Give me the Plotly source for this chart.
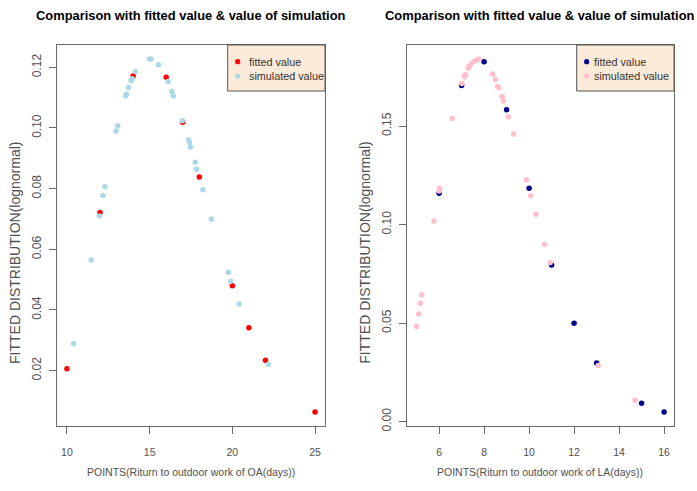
import plotly.graph_objects as go

# ---- OA panel (left) ----
oa_fit_x = [10, 12, 14, 16, 17, 18, 20, 21, 22, 25]
oa_fit_y = [0.0206, 0.0721, 0.1171, 0.1167, 0.1019, 0.0838, 0.0480, 0.0341, 0.0234, 0.0064]

oa_sim_x = [10.4, 11.47, 11.96, 12.18, 12.3, 12.97, 13.07, 13.55, 13.6, 13.72, 13.88, 13.94,
            14.14, 14.99, 15.09, 15.53, 16.12, 16.34, 16.44, 16.97, 17.35, 17.41, 17.47,
            17.76, 17.84, 18.22, 18.73, 19.76, 19.9, 20.4, 22.18]
oa_sim_y = [0.0289, 0.0565, 0.0710, 0.0777, 0.0806, 0.0990, 0.1007, 0.1105, 0.1111, 0.1133,
            0.1156, 0.1162, 0.1186, 0.1227, 0.1227, 0.1208, 0.1153, 0.1120, 0.1105, 0.1024,
            0.0961, 0.0952, 0.0937, 0.0887, 0.0864, 0.0796, 0.0700, 0.0524, 0.0495, 0.0420,
            0.0221]

# ---- LA panel (right) ----
la_fit_x = [6, 7, 8, 9, 10, 11, 12, 13, 15, 16]
la_fit_y = [0.1159, 0.1706, 0.1827, 0.1583, 0.1184, 0.0795, 0.0499, 0.0297, 0.0093, 0.0049]

la_sim_x = [5.0, 5.09, 5.17, 5.23, 5.77, 6.0, 6.02, 6.58, 7.01, 7.13, 7.17, 7.29, 7.33, 7.42,
            7.54, 7.64, 7.76, 8.38, 8.5, 8.6, 8.65, 8.8, 8.86, 9.08, 9.31, 9.88, 10.07,
            10.3, 10.69, 10.94, 13.07, 14.71]
la_sim_y = [0.0482, 0.0546, 0.0600, 0.0642, 0.1018, 0.1170, 0.1185, 0.1539, 0.1716, 0.1751,
            0.1761, 0.1793, 0.1803, 0.1816, 0.1828, 0.1833, 0.1840, 0.1764, 0.1736, 0.1701,
            0.1694, 0.1650, 0.1627, 0.1547, 0.1460, 0.1228, 0.1146, 0.1052, 0.0899, 0.0807,
            0.0284, 0.0108]

oa_xticks = [10, 15, 20, 25]
oa_yticks = [0.02, 0.04, 0.06, 0.08, 0.10, 0.12]
la_xticks = [6, 8, 10, 12, 14, 16]
la_yticks = [0.00, 0.05, 0.10, 0.15]

legend_labels = ["fitted value", "simulated value"]
oa_colors = ["#ff0000", "#add8e6"]
la_colors = ["#00008b", "#ffc0cb"]

TITLE = "Comparison with fitted value & value of simulation"
YLAB = "FITTED DISTRIBUTION(lognormal)"
XLAB_OA = "POINTS(Riturn to outdoor work of OA(days))"
XLAB_LA = "POINTS(Riturn to outdoor work of LA(days))"

W, H = 697, 491
FONT = "Liberation Sans, Arial, sans-serif"
AXIS_GREY = "#6b6b6b"
TEXT_GREY = "#505050"


def pad_range(vals, frac=0.04):
    lo, hi = min(vals), max(vals)
    d = (hi - lo) * frac
    return [lo - d, hi + d]


def px(x):
    return x / W


def py(y):
    return 1 - y / H


# plot boxes in pixels (left, right, top, bottom)
box_l = (57, 325, 45, 426)
box_r = (406.7, 674, 45, 426)


def dom(box):
    l, r, t, b = box
    return [px(l), px(r)], [py(b), py(t)]


fig = go.Figure()

mk = dict(size=5.5, line=dict(width=0))
panels = [
    (oa_fit_x, oa_fit_y, oa_sim_x, oa_sim_y, oa_colors, "x", "y"),
    (la_fit_x, la_fit_y, la_sim_x, la_sim_y, la_colors, "x2", "y2"),
]
for fx, fy, sx, sy, cols, xa, ya in panels:
    fig.add_trace(go.Scatter(x=fx, y=fy, mode="markers", name=legend_labels[0],
                             marker=dict(color=cols[0], **mk), xaxis=xa, yaxis=ya,
                             showlegend=False))
    fig.add_trace(go.Scatter(x=sx, y=sy, mode="markers", name=legend_labels[1],
                             marker=dict(color=cols[1], **mk), xaxis=xa, yaxis=ya,
                             showlegend=False))

xd1, yd1 = dom(box_l)
xd2, yd2 = dom(box_r)

axis_common = dict(showgrid=False, zeroline=False, showline=True, linecolor=AXIS_GREY,
                   linewidth=1, mirror=True, ticks="outside", ticklen=7, tickwidth=1,
                   tickcolor=AXIS_GREY, automargin=False)
xfont = dict(family=FONT, size=10.5, color=TEXT_GREY)
yfont = dict(family=FONT, size=12, color=TEXT_GREY)

fig.update_layout(
    width=W, height=H,
    margin=dict(l=0, r=0, t=0, b=0),
    paper_bgcolor="white", plot_bgcolor="white",
    showlegend=False,
    xaxis=dict(domain=xd1, range=pad_range(oa_fit_x + oa_sim_x), tickvals=oa_xticks,
               anchor="y", ticklabelstandoff=9, tickfont=xfont, **axis_common),
    yaxis=dict(domain=yd1, range=pad_range(oa_fit_y + oa_sim_y), tickvals=oa_yticks,
               tickformat=".2f", tickangle=-90, anchor="x", tickfont=yfont,
               ticklabelstandoff=3, **axis_common),
    xaxis2=dict(domain=xd2, range=pad_range(la_fit_x + la_sim_x), tickvals=la_xticks,
                anchor="y2", ticklabelstandoff=9, tickfont=xfont, **axis_common),
    yaxis2=dict(domain=yd2, range=pad_range(la_fit_y + la_sim_y), tickvals=la_yticks,
                tickformat=".2f", tickangle=-90, anchor="x2", tickfont=yfont,
                ticklabelstandoff=3, **axis_common),
)

ann = []
shapes = []
# per panel: box, x label, legend frame (l, r, t, b), legend marker x, legend text x
legend_geo = [
    (box_l, XLAB_OA, (227.7, 325, 45, 91), 237.7, 246.5, oa_colors),
    (box_r, XLAB_LA, (576.7, 674, 45, 91), 586.7, 591.5, la_colors),
]
for box, xlab, lg, mx, tx, cols in legend_geo:
    l, r, t, b = box
    cx = px((l + r) / 2)
    ann.append(dict(text="<b>%s</b>" % TITLE, x=cx, y=py(16), xref="paper", yref="paper",
                    xanchor="center", yanchor="middle", showarrow=False,
                    font=dict(family=FONT, size=12.9, color="black")))
    ann.append(dict(text=xlab, x=cx, y=py(472), xref="paper", yref="paper",
                    xanchor="center", yanchor="middle", showarrow=False, font=xfont))
    ann.append(dict(text=YLAB, x=px(l - 42), y=py(253), xref="paper",
                    yref="paper", xanchor="center", yanchor="middle", textangle=-90,
                    showarrow=False, font=dict(family=FONT, size=14, color=TEXT_GREY)))
    # legend frame
    ll, lr, lt, lb = lg
    shapes.append(dict(type="rect", xref="paper", yref="paper", x0=px(ll), x1=px(lr),
                       y0=py(lb), y1=py(lt), fillcolor="#fdebda",
                       line=dict(color="#555555", width=1), layer="above"))
    for i, (lab, col) in enumerate(zip(legend_labels, cols)):
        yy = 61.7 + i * 14.5
        shapes.append(dict(type="circle", xref="paper", yref="paper",
                           x0=px(mx - 2.6), x1=px(mx + 2.6), y0=py(yy + 2.6),
                           y1=py(yy - 2.6), fillcolor=col, line=dict(width=0),
                           layer="above"))
        ann.append(dict(text=lab, x=px(tx), y=py(yy), xref="paper", yref="paper",
                        xanchor="left", yanchor="middle", showarrow=False,
                        font=dict(family=FONT, size=10.8, color="#333333")))

fig.update_layout(annotations=ann, shapes=shapes)

fig.write_html("out.html")
